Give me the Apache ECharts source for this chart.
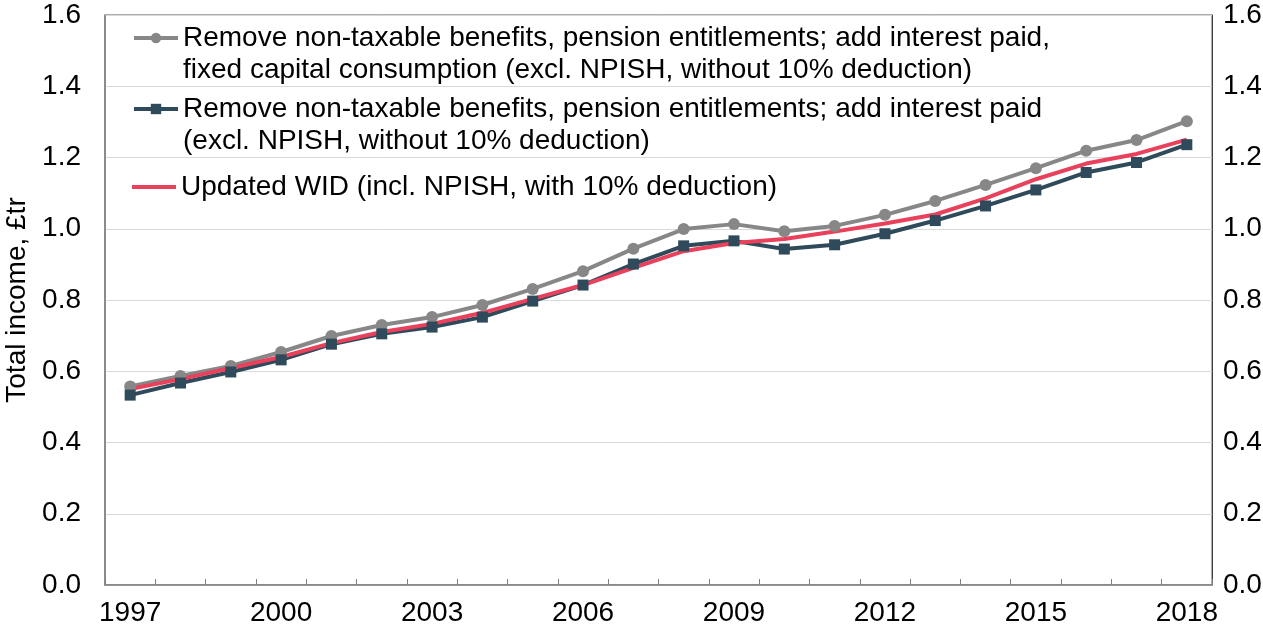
<!DOCTYPE html>
<html>
<head>
<meta charset="utf-8">
<title>Total income</title>
<script src="https://cdn.jsdelivr.net/npm/echarts@6/dist/echarts.min.js"></script>
<style>
  html, body { margin: 0; padding: 0; background: #fff; }
  #chart { width: 1263px; height: 631px; }
</style>
</head>
<body>
<div id="chart"></div>
<script>
// years on the x axis
var years = ['1997','1998','1999','2000','2001','2002','2003','2004','2005','2006','2007',
             '2008','2009','2010','2011','2012','2013','2014','2015','2016','2017','2018'];

// £tr
var withFixedCapital = [0.557, 0.587, 0.615, 0.654, 0.699, 0.730, 0.752, 0.786, 0.831, 0.881, 0.944,
                        0.999, 1.013, 0.993, 1.008, 1.039, 1.078, 1.123, 1.170, 1.219, 1.249, 1.302];
var withInterest     = [0.533, 0.567, 0.598, 0.632, 0.676, 0.705, 0.724, 0.752, 0.797, 0.842, 0.901,
                        0.952, 0.966, 0.943, 0.955, 0.986, 1.023, 1.064, 1.109, 1.158, 1.186, 1.236];
var updatedWid       = [0.550, 0.578, 0.609, 0.640, 0.679, 0.710, 0.733, 0.764, 0.803, 0.842, 0.890,
                        0.937, 0.960, 0.971, 0.992, 1.015, 1.040, 1.085, 1.139, 1.183, 1.210, 1.250];

var names = [
  'Remove non-taxable benefits, pension entitlements; add interest paid,\nfixed capital consumption (excl. NPISH, without 10% deduction)',
  'Remove non-taxable benefits, pension entitlements; add interest paid\n(excl. NPISH, without 10% deduction)',
  'Updated WID (incl. NPISH, with 10% deduction)'
];

var FONT = 'Liberation Sans, Arial, sans-serif';
var FS = 28;

// one legend per series; a blank first line keeps the icon on the first text line
function legendFor(name, top, twoLines, extra) {
  var lg = {
    data: [name],
    orient: 'vertical',
    left: 132,
    top: top,
    padding: 0,
    itemWidth: 44,
    itemHeight: 13,
    selectedMode: false,
    lineStyle: { width: 4 },
    formatter: function (n) { return twoLines ? ' \n' + n : n; },
    textStyle: {
      fontFamily: FONT,
      fontSize: FS,
      color: '#000',
      lineHeight: 32
    }
  };
  return Object.assign(lg, extra || {});
}

var chart = echarts.init(document.getElementById('chart'));
chart.setOption({
  animation: false,
  backgroundColor: '#fff',
  textStyle: { fontFamily: FONT },
  grid: {
    left: 105, right: 51, top: 15, bottom: 46,
    outerBoundsMode: 'none',
    containLabel: false,
    show: true, borderColor: '#595959', borderWidth: 1
  },
  legend: [
    legendFor(names[0], -10, true),
    legendFor(names[1], 61, true),
    legendFor(names[2], 171, false, { icon: 'rect', itemHeight: 4 })
  ],
  xAxis: {
    type: 'category',
    data: years,
    boundaryGap: true,
    axisLine: { lineStyle: { color: '#808080', width: 1.5 } },
    axisTick: { show: true, inside: true, length: 6, interval: 0, lineStyle: { color: '#808080' } },
    axisLabel: { interval: 2, fontSize: FS, color: '#000', margin: 14, fontFamily: FONT },
    splitLine: { show: false }
  },
  yAxis: [
    {
      type: 'value',
      min: 0, max: 1.6, interval: 0.2,
      name: 'Total income, £tr',
      nameLocation: 'middle',
      nameGap: 69,
      nameTextStyle: { fontSize: FS, color: '#000', fontFamily: FONT },
      axisLine: { show: true, lineStyle: { color: '#808080', width: 1.5 } },
      axisTick: { show: false },
      axisLabel: { fontSize: FS, color: '#000', margin: 24, fontFamily: FONT,
                   formatter: function (v) { return v.toFixed(1); } },
      splitLine: { show: true, lineStyle: { color: '#d9d9d9', width: 1 } }
    },
    {
      type: 'value',
      position: 'right',
      min: 0, max: 1.6, interval: 0.2,
      axisLine: { show: true, lineStyle: { color: '#404040' } },
      axisTick: { show: false },
      axisLabel: { fontSize: FS, color: '#000', margin: 11, fontFamily: FONT,
                   formatter: function (v) { return v.toFixed(1); } },
      splitLine: { show: false }
    }
  ],
  series: [
    {
      name: names[0],
      type: 'line',
      data: withFixedCapital,
      color: '#878787',
      symbol: 'circle',
      symbolSize: 12,
      lineStyle: { width: 4 }
    },
    {
      name: names[1],
      type: 'line',
      data: withInterest,
      color: '#2f4a5a',
      symbol: 'rect',
      symbolSize: 11,
      lineStyle: { width: 4 }
    },
    {
      name: names[2],
      type: 'line',
      data: updatedWid,
      color: '#e9405b',
      symbol: 'none',
      lineStyle: { width: 4 }
    }
  ]
});
</script>
</body>
</html>
